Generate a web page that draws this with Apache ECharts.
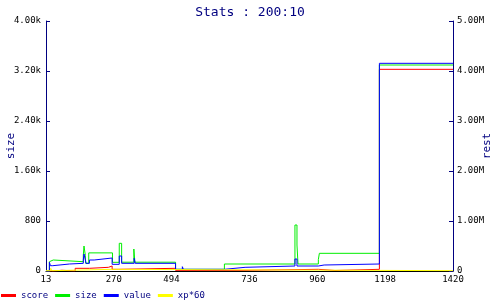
<!DOCTYPE html>
<html>
<head>
<meta charset="utf-8">
<script src="https://cdn.jsdelivr.net/npm/echarts@6/dist/echarts.min.js"></script>
<style>html,body{margin:0;padding:0;background:#fff}#c{width:500px;height:300px}</style>
</head>
<body>
<div id="c"></div>
<script>
// x positions are sample indices (0..120); tick labels are the sample ids shown on the axis
const xTickPos = [0, 20, 37, 60, 80, 100, 120];
const xTickLabels = ['13', '270', '494', '736', '960', '1198', '1420'];
const sizeTickLabels = ['0', '800', '1.60k', '2.40k', '3.20k', '4.00k'];
const restTickLabels = ['0', '1.00M', '2.00M', '3.00M', '4.00M', '5.00M'];
const seriesNames = ['score', 'size', 'value', 'xp*60'];

const score = [[0,0],[2.1,12],[4.7,0],[8.6,43],[12.8,59],[18.4,80],[19.5,27],[21.3,43],[38.2,10],[57.5,27],[80.3,8],[85.2,27],[98.3,3227],[120,3227]];
const size = [[0,0],[1.0,149],[1.4,176],[2.15,149],[11.0,250],[11.2,400],[11.6,250],[11.7,123],[12.6,290],[19.6,139],[21.6,443],[22.3,141],[25.9,352],[26.2,141],[38.2,27],[52.6,112],[73.4,736],[74.0,416],[74.3,112],[80.3,184],[80.6,283],[98.3,3296],[120,3296]];
const value = [[0,0],[1.0,139],[1.3,85],[2.0,112],[6.9,123],[11.0,176],[11.2,272],[11.6,176],[11.8,123],[12.8,176],[14.2,208],[19.5,107],[21.6,240],[22.3,123],[26.0,203],[26.3,123],[38.2,27],[40.2,69],[40.5,27],[52.6,59],[58.7,80],[73.4,192],[74.0,80],[80.3,96],[82.0,112],[98.3,3323],[120,3323]];
const xp60 = [[0,5],[1.4,43],[1.7,5],[2.15,27],[19.5,5],[120,5]];

const colors = ['#ff0000', '#00ee00', '#0000ff', '#ffff00'];
const navy = '#000080';
const mono = 'DejaVu Sans Mono';
const chart = echarts.init(document.getElementById('c'), null, {renderer: 'canvas'});
const mk = (name, data, color) => ({
  name, type: 'line', data, step: 'end', symbol: 'none', color,
  lineStyle: {width: 1, color}, yAxisIndex: 0
});
chart.setOption({
  animation: false,
  backgroundColor: '#fff',
  title: {text: 'Stats : 200:10', left: 'center', top: 1,
    textStyle: {color: navy, fontFamily: mono, fontSize: 13, fontWeight: 'normal'}},
  legend: {data: seriesNames, left: 1, bottom: 0, padding: 0, icon: 'rect', itemWidth: 15, itemHeight: 3,
    itemGap: 7, textStyle: {color: navy, fontFamily: mono, fontSize: 9}},
  grid: {left: 46, right: 47, top: 21, bottom: 29, containLabel: false, outerBoundsMode: 'none'},
  xAxis: {type: 'value', min: 0, max: 120,
    axisLine: {lineStyle: {color: '#000', width: 1}},
    axisTick: {show: false}, splitLine: {show: false},
    axisLabel: {customValues: xTickPos, color: '#000', fontFamily: mono, fontSize: 9, margin: 4,
      formatter: v => xTickLabels[xTickPos.indexOf(v)] ?? ''}},
  yAxis: [
    {type: 'value', min: 0, max: 4000, interval: 800, name: 'size', nameLocation: 'middle', nameGap: 29,
      nameMoveOverlap: false,
      nameTextStyle: {color: navy, fontFamily: mono, fontSize: 11},
      axisLine: {show: true, lineStyle: {color: navy}}, axisTick: {show: true, inside: true, length: 4, lineStyle: {color: navy}},
      splitLine: {show: false},
      axisLabel: {color: '#000', fontFamily: mono, fontSize: 9, margin: 5, formatter: v => sizeTickLabels[Math.round(v / 800)]}},
    {type: 'value', min: 0, max: 5000000, interval: 1000000, name: 'rest', nameLocation: 'middle', nameGap: 29,
      nameMoveOverlap: false,
      nameTextStyle: {color: navy, fontFamily: mono, fontSize: 11},
      axisLine: {show: true, lineStyle: {color: navy}}, axisTick: {show: true, inside: true, length: 4, lineStyle: {color: navy}},
      splitLine: {show: false},
      axisLabel: {color: '#000', fontFamily: mono, fontSize: 9, margin: 4, formatter: v => restTickLabels[Math.round(v / 1000000)]}}
  ],
  series: [mk('score', score, colors[0]), mk('size', size, colors[1]), mk('value', value, colors[2]), mk('xp*60', xp60, colors[3])]
});
</script>
</body>
</html>
